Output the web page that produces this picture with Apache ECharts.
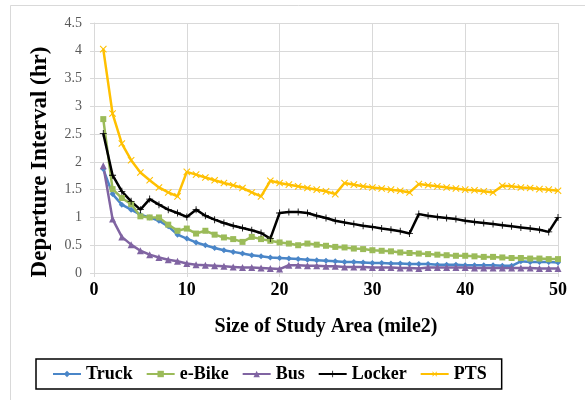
<!DOCTYPE html>
<html>
<head>
<meta charset="utf-8">
<script src="https://cdn.jsdelivr.net/npm/echarts@6/dist/echarts.min.js"></script>
<style>html,body{margin:0;padding:0;background:#fff;}#c{width:585px;height:400px;}</style>
</head>
<body>
<div id="c"></div>
<script>
const areaSizes = [1,2,3,4,5,6,7,8,9,10,11,12,13,14,15,16,17,18,19,20,21,22,23,24,25,26,27,28,29,30,31,32,33,34,35,36,37,38,39,40,41,42,43,44,45,46,47,48,49,50];
const truck = [1.87,1.42,1.23,1.14,1.05,1.0,0.94,0.84,0.69,0.62,0.55,0.5,0.45,0.41,0.38,0.35,0.32,0.3,0.28,0.27,0.26,0.25,0.24,0.23,0.22,0.21,0.2,0.2,0.19,0.18,0.18,0.17,0.17,0.16,0.16,0.16,0.15,0.15,0.15,0.14,0.14,0.14,0.14,0.13,0.13,0.21,0.2,0.2,0.2,0.19];
const eBike = [2.77,1.51,1.35,1.24,1.02,1.0,1.0,0.87,0.76,0.8,0.71,0.76,0.69,0.64,0.61,0.56,0.65,0.61,0.58,0.55,0.53,0.5,0.53,0.51,0.49,0.47,0.46,0.44,0.43,0.41,0.4,0.39,0.37,0.36,0.35,0.34,0.33,0.32,0.31,0.31,0.3,0.29,0.29,0.28,0.27,0.27,0.26,0.26,0.25,0.25];
const bus = [1.93,0.97,0.65,0.51,0.4,0.33,0.28,0.24,0.21,0.17,0.15,0.14,0.13,0.12,0.11,0.1,0.1,0.09,0.08,0.07,0.14,0.14,0.13,0.13,0.12,0.12,0.11,0.11,0.11,0.1,0.1,0.1,0.09,0.09,0.08,0.1,0.1,0.1,0.1,0.1,0.09,0.09,0.09,0.09,0.09,0.09,0.09,0.08,0.08,0.08];
const locker = [2.51,1.76,1.47,1.29,1.14,1.33,1.23,1.14,1.08,1.01,1.14,1.03,0.96,0.9,0.85,0.81,0.77,0.72,0.62,1.08,1.1,1.1,1.08,1.03,0.99,0.94,0.91,0.88,0.85,0.83,0.8,0.78,0.75,0.71,1.06,1.03,1.01,0.99,0.97,0.94,0.92,0.9,0.88,0.86,0.84,0.82,0.8,0.78,0.74,1.0];
const pts = [4.03,2.87,2.33,2.03,1.81,1.67,1.54,1.45,1.38,1.82,1.77,1.72,1.67,1.62,1.58,1.53,1.45,1.38,1.66,1.62,1.59,1.56,1.53,1.5,1.47,1.42,1.62,1.59,1.56,1.54,1.52,1.5,1.48,1.45,1.6,1.58,1.56,1.54,1.52,1.5,1.49,1.47,1.45,1.57,1.56,1.54,1.53,1.51,1.5,1.48];
const seriesNames = ['Truck','e-Bike','Bus','Locker','PTS'];
const xTitle = 'Size of Study Area (mile2)';
const yTitle = 'Departure Interval (hr)';

const FONT = '"Liberation Serif", "Times New Roman", serif';
const PLUS = 'path://M-0.6,-5H0.6V5H-0.6Z M-5,-0.6H5V0.6H-5Z';
function pair(ys){ return ys.map((y,i)=>[areaSizes[i], y]); }
function mk(name, ys, color, symbol, size, extra){
  return Object.assign({
    name, type:'line', data: pair(ys), symbol, symbolSize: size,
    lineStyle:{color, width:2.5}, itemStyle:{color},
    emphasis:{disabled:true}, animation:false
  }, extra||{});
}
const chart = echarts.init(document.getElementById('c'), null, {renderer:'canvas'});
chart.setOption({
  animation:false,
  backgroundColor:'#fff',
  graphic:[{type:'rect', shape:{x:10.5,y:5.5,width:700,height:500}, style:{fill:'none', stroke:'#d9d9d9', lineWidth:1}, silent:true, z:-1}],
  grid:{left:94, right:27, top:23, bottom:127},
  xAxis:{
    type:'value', min:0, max:50, interval:10,
    name:xTitle, nameLocation:'middle', nameGap:44,
    nameTextStyle:{fontFamily:FONT, fontWeight:'bold', fontSize:20, color:'#000'},
    axisLine:{show:true, lineStyle:{color:'#d9d9d9'}},
    axisTick:{show:true, length:4, lineStyle:{color:'#d9d9d9'}},
    axisLabel:{fontFamily:FONT, fontWeight:'bold', fontSize:18, color:'#000', margin:8},
    splitLine:{show:true, lineStyle:{color:'#d9d9d9'}}
  },
  yAxis:{
    type:'value', min:0, max:4.5, interval:0.5,
    name:yTitle, nameLocation:'middle', nameGap:42, nameRotate:90,
    nameTextStyle:{fontFamily:FONT, fontWeight:'bold', fontSize:23, color:'#000', padding:[0,28,0,0]},
    axisLine:{show:true, lineStyle:{color:'#d9d9d9'}},
    axisTick:{show:true, length:4, lineStyle:{color:'#d9d9d9'}},
    axisLabel:{fontFamily:FONT, fontSize:14, color:'#595959', margin:12},
    splitLine:{show:true, lineStyle:{color:'#d9d9d9'}}
  },
  legend:{
    left:36, top:359, padding:[6,15,6,16], itemGap:13, itemWidth:28, itemHeight:8, itemTextGap:3,
    borderColor:'#000', borderWidth:1.5, borderRadius:0,
    textStyle:{fontFamily:FONT, fontWeight:'bold', fontSize:18, color:'#000'},
    data:seriesNames
  },
  series:[
    mk(seriesNames[0], truck, '#4A86C8', 'diamond', 6),
    mk(seriesNames[1], eBike, '#9BBB59', 'rect', 6),
    mk(seriesNames[2], bus, '#8064A2', 'triangle', 7),
    mk(seriesNames[3], locker, '#000000', PLUS, 7),
    mk(seriesNames[4], pts, '#FFC000', PLUS, 9, {symbolRotate:45})
  ]
});
</script>
</body>
</html>
